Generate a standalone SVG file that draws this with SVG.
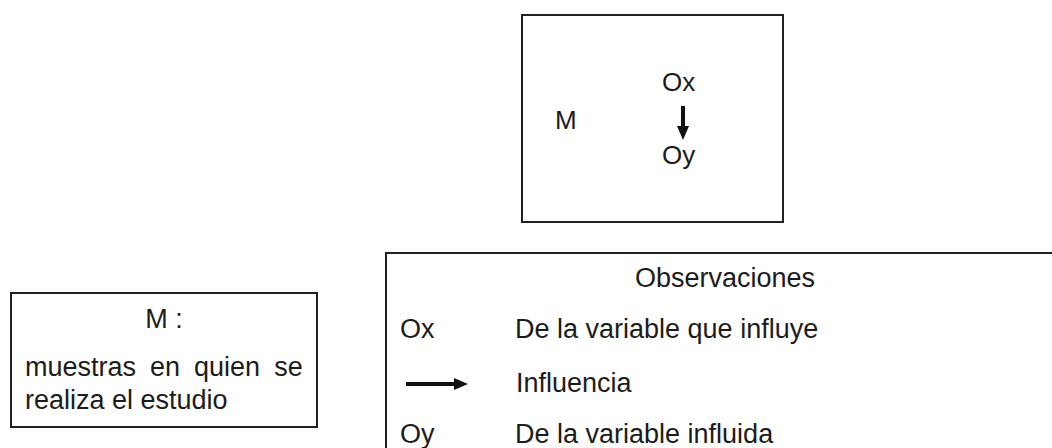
<svg xmlns="http://www.w3.org/2000/svg" width="1052" height="448" viewBox="0 0 1052 448">
  <style>
    .box { fill: #ffffff; stroke: #222222; stroke-width: 2; }
    .t { font-family: "Liberation Sans", Arial, sans-serif; fill: #1c1c1c; }
    .big { font-size: 26px; }
    .txt { font-size: 27px; }
    .arrow { stroke: #111111; stroke-width: 4; fill: none; marker-end: url(#head); }
  </style>
  <defs>
    <marker id="head" markerUnits="userSpaceOnUse" markerWidth="14" markerHeight="12" refX="2" refY="6" orient="auto">
      <path d="M0,0 L14,6 L0,12 Z" fill="#111111"/>
    </marker>
  </defs>
  <rect width="1052" height="448" fill="#ffffff"/>

  <g id="design-box">
    <rect class="box" x="522" y="15" width="261" height="207"/>
  </g>
  <g id="node-M">
    <text class="t big" x="555" y="129">M</text>
  </g>
  <g id="node-Ox">
    <text class="t big" x="662" y="91">Ox</text>
  </g>
  <g id="node-Oy">
    <text class="t big" x="662" y="164">Oy</text>
  </g>
  <g id="connectors">
    <line class="arrow" x1="683" y1="106" x2="683" y2="128"/>
  </g>

  <g id="legend-M">
    <rect class="box" x="11" y="293" width="306" height="134"/>
    <text class="t txt" x="164" y="328" text-anchor="middle">M :</text>
    <text class="t txt" x="25" y="376" word-spacing="6.5">muestras en quien se</text>
    <text class="t txt" x="25" y="409">realiza el estudio</text>
  </g>

  <g id="legend-observaciones">
    <rect class="box" x="386" y="253" width="720" height="300"/>
    <text class="t txt" x="725" y="287" text-anchor="middle">Observaciones</text>
    <text class="t txt" x="400" y="338">Ox</text>
    <text class="t txt" x="515" y="338">De la variable que influye</text>
    <line class="arrow" x1="406" y1="384" x2="456" y2="384"/>
    <text class="t txt" x="516" y="392">Influencia</text>
    <text class="t txt" x="400" y="443">Oy</text>
    <text class="t txt" x="515" y="443">De la variable influida</text>
  </g>
</svg>
